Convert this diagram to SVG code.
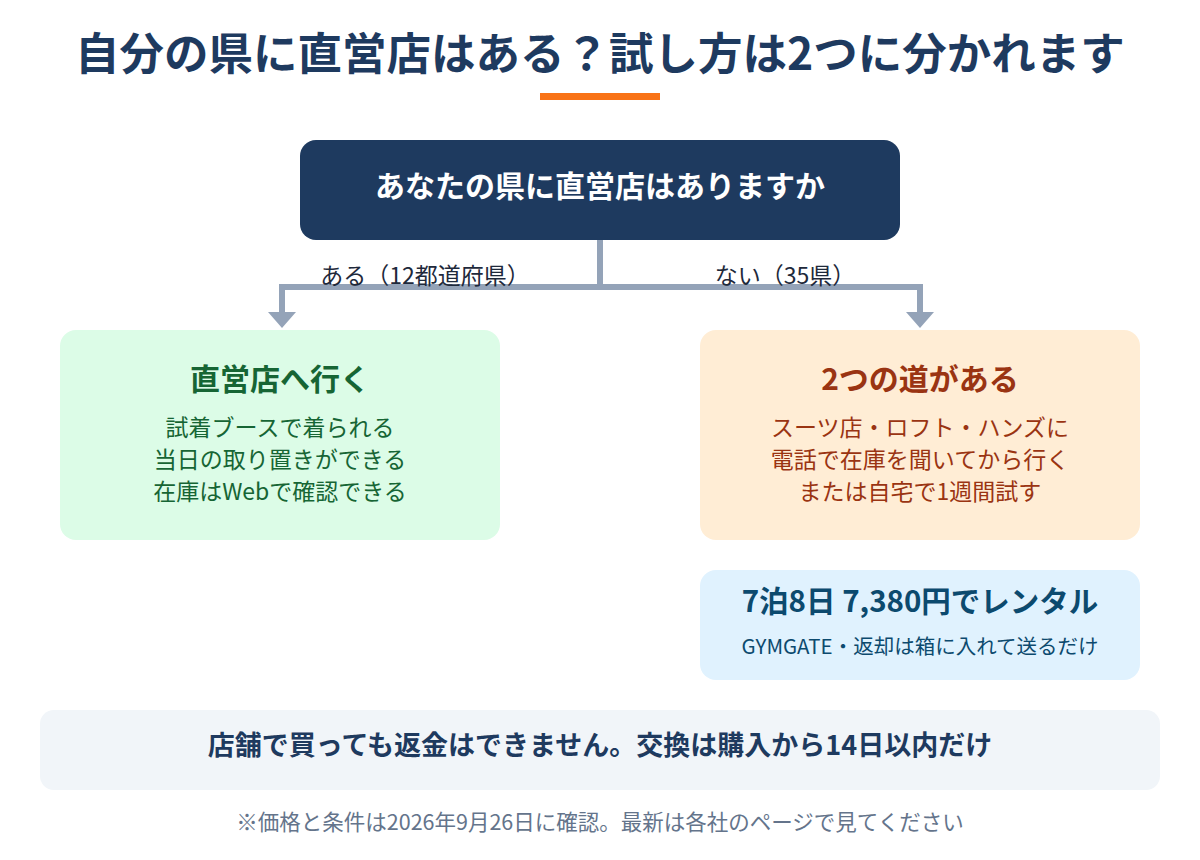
<svg xmlns="http://www.w3.org/2000/svg" width="1200" height="860" viewBox="0 0 1200 860">
<style>
text{font-family:"Noto Sans CJK JP","Noto Sans",sans-serif;text-anchor:middle}
.title{font-size:44.5px;font-weight:700;fill:#1e3a5f}
.q{font-size:30px;font-weight:700;fill:#ffffff}
.lbl{font-size:23px;fill:#1e293b}
.h{font-size:30px;font-weight:700}
.b{font-size:23px}
.g{fill:#166534}
.o{fill:#9a3412}
.bl{fill:#0c4a6e}
.conn{stroke:#94a3b8;stroke-width:6;fill:none}
</style>
<rect width="1200" height="860" fill="#ffffff"/>
<g id="title">
<text class="title" x="600" y="70">自分の県に直営店はある？試し方は2つに分かれます</text>
<rect x="540" y="93" width="120" height="7" fill="#f97316"/>
</g>
<g id="connectors">
<path class="conn" d="M600,240 V287"/>
<path class="conn" d="M282,287 H920"/>
<path class="conn" d="M282,284 V313"/>
<path class="conn" d="M920,284 V313"/>
<path d="M268,312 L296,312 L282,328 Z" fill="#94a3b8"/>
<path d="M906,312 L934,312 L920,328 Z" fill="#94a3b8"/>
<text class="lbl" x="425" y="284">ある（12都道府県）</text>
<text class="lbl" x="785" y="284">ない（35県）</text>
</g>
<g id="question">
<rect x="300" y="140" width="600" height="100" rx="16" fill="#1e3a5f"/>
<text class="q" x="600" y="197">あなたの県に直営店はありますか</text>
</g>
<g id="store">
<rect x="60" y="330" width="440" height="210" rx="16" fill="#dcfce7"/>
<text class="h g" x="280" y="390">直営店へ行く</text>
<text class="b g" x="280" y="436">試着ブースで着られる</text>
<text class="b g" x="280" y="468">当日の取り置きができる</text>
<text class="b g" x="280" y="500">在庫はWebで確認できる</text>
</g>
<g id="twoways">
<rect x="700" y="330" width="440" height="210" rx="16" fill="#ffedd5"/>
<text class="h o" x="920" y="390">2つの道がある</text>
<text class="b o" x="920" y="436">スーツ店・ロフト・ハンズに</text>
<text class="b o" x="920" y="468">電話で在庫を聞いてから行く</text>
<text class="b o" x="920" y="500">または自宅で1週間試す</text>
</g>
<g id="rental">
<rect x="700" y="570" width="440" height="110" rx="16" fill="#e0f2fe"/>
<text class="h bl" x="920" y="612" style="font-size:29.5px">7泊8日 7,380円でレンタル</text>
<text class="bl" x="920" y="654" style="font-size:20.5px">GYMGATE・返却は箱に入れて送るだけ</text>
</g>
<g id="note">
<rect x="40" y="710" width="1120" height="80" rx="14" fill="#f1f5f9"/>
<text x="600" y="755" style="font-size:27px;font-weight:700;fill:#1e3a5f">店舗で買っても返金はできません。交換は購入から14日以内だけ</text>
</g>
<g id="footer">
<text x="600" y="830" style="font-size:21.5px;fill:#64748b">※価格と条件は2026年9月26日に確認。最新は各社のページで見てください</text>
</g>
</svg>
